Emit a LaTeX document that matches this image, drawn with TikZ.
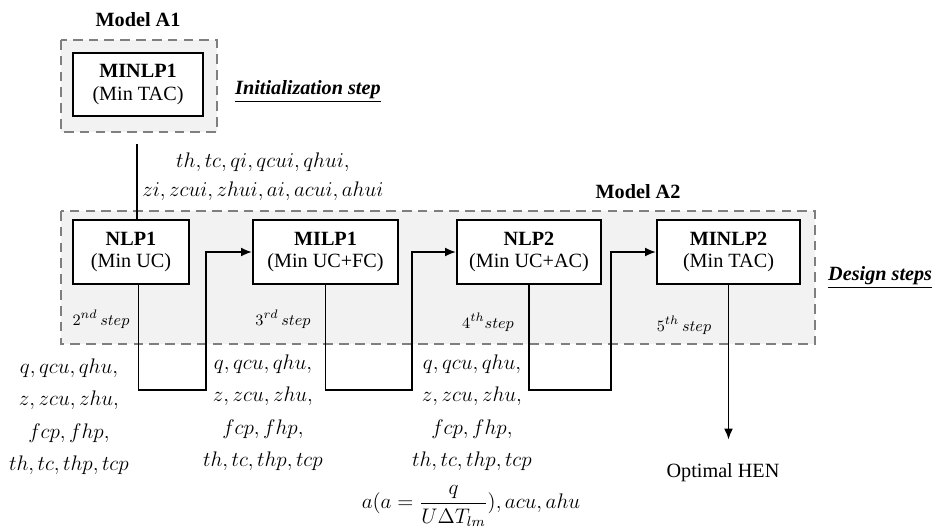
\documentclass[tikz,border=0pt]{standalone}
\usepackage{fontspec}
\setmainfont{Liberation Serif}
\usepackage{xcolor}
\usepackage{tikz}
\usetikzlibrary{arrows.meta,positioning}

\definecolor{panelgray}{HTML}{F2F2F2}
\definecolor{dashgray}{HTML}{7F7F7F}

\begin{document}
\begin{tikzpicture}[
    font=\fontsize{11.5}{13}\selectfont,
    >={Latex[length=2.2mm,width=1.8mm]},
    panel/.style={fill=panelgray, draw=dashgray, line width=1.2pt, dash pattern=on 5.5pt off 3.5pt},
    model/.style={draw, line width=1.1pt, fill=white, align=center, minimum width=#1, minimum height=12.7mm, inner sep=2pt},
    model/.default=28.8mm,
    flow/.style={->, line width=1.1pt},
    link/.style={line width=1.1pt},
    vars/.style={align=center, font=\fontsize{11.5}{18.5}\selectfont},
    steplab/.style={font=\fontsize{9.5}{11}\selectfont},
    phase/.style={font=\fontsize{11.5}{13}\selectfont\bfseries\itshape, anchor=west},
    title/.style={font=\fontsize{11.5}{13}\selectfont\bfseries}
  ]
    \useasboundingbox (0,0) rectangle (18.96,-10.58);

    % dashed model frames
    \filldraw[panel] (1.22,-0.80) rectangle (4.34,-2.64);
    \filldraw[panel] (1.22,-4.22) rectangle (16.30,-6.88);
    \node[title] (tA1) at (2.76,-0.40) {Model A1};
    \node[title] (tA2) at (12.76,-3.84) {Model A2};

    \node[model=26mm] (minlp1) at (2.76,-1.69) {\textbf{MINLP1}\\(Min TAC)};
    \node[phase] (init) at (4.58,-1.82) {\underline{Initialization step}};

    \node[model=23.2mm] (nlp1) at (2.62,-5.04) {\textbf{NLP1}\\(Min UC)};
    \node[model=29mm] (milp1) at (6.51,-5.04) {\textbf{MILP1}\\(Min UC+FC)};
    \node[model] (nlp2) at (10.58,-5.04) {\textbf{NLP2}\\(Min UC+AC)};
    \node[model=28.6mm] (minlp2) at (14.57,-5.04) {\textbf{MINLP2}\\(Min TAC)};
    \node[phase] (design) at (16.44,-5.54) {\underline{Design steps}};

    \node[steplab] (s2) at (2.02,-6.38) {$2^{nd}\,step$};
    \node[steplab] (s3) at (5.66,-6.38) {$3^{rd}\,step$};
    \node[steplab] (s4) at (9.76,-6.44) {$4^{th}step$};
    \node[steplab] (s5) at (13.68,-6.50) {$5^{th}\,step$};

    % initial values handed to NLP1
    \coordinate (c0) at (2.74,-2.88);
    \draw[link] (c0) -- (c0 |- nlp1.north);
    \node[vars, font=\fontsize{11.5}{16.5}\selectfont] (v0) at (5.26,-3.53)
      {$th,tc,qi,qcui,qhui,$\\$zi,zcui,zhui,ai,acui,ahui$};

    % step to step
    \coordinate (r1) at (4.12,-7.80);
    \coordinate (r2) at (8.24,-7.80);
    \coordinate (r3) at (12.22,-7.80);
    \draw[flow] ([xshift=1.5mm]nlp1.south) |- (r1) |- (milp1.west);
    \draw[flow] (milp1.south) |- (r2) |- (nlp2.west);
    \draw[flow] (nlp2.south) |- (r3) |- (minlp2.west);

    \node[vars] (v1) at (1.38,-8.33) {$q,qcu,qhu,$\\$z,zcu,zhu,$\\$fcp,fhp,$\\$th,tc,thp,tcp$};
    \node[vars] (v2) at (5.26,-8.25) {$q,qcu,qhu,$\\$z,zcu,zhu,$\\$fcp,fhp,$\\$th,tc,thp,tcp$};
    \node[vars] (v3) at (9.44,-8.25) {$q,qcu,qhu,$\\$z,zcu,zhu,$\\$fcp,fhp,$\\$th,tc,thp,tcp$};
    \node[vars] (v3a) at (9.42,-10.12) {$\displaystyle a(a=\frac{q}{U\Delta T_{lm}}),acu,ahu$};

    \node (hen) at (14.46,-9.46) {Optimal HEN};
    \draw[flow, shorten >=3.6mm] (minlp2.south) -- (minlp2.south |- hen.north);
  \end{tikzpicture}
\end{document}
